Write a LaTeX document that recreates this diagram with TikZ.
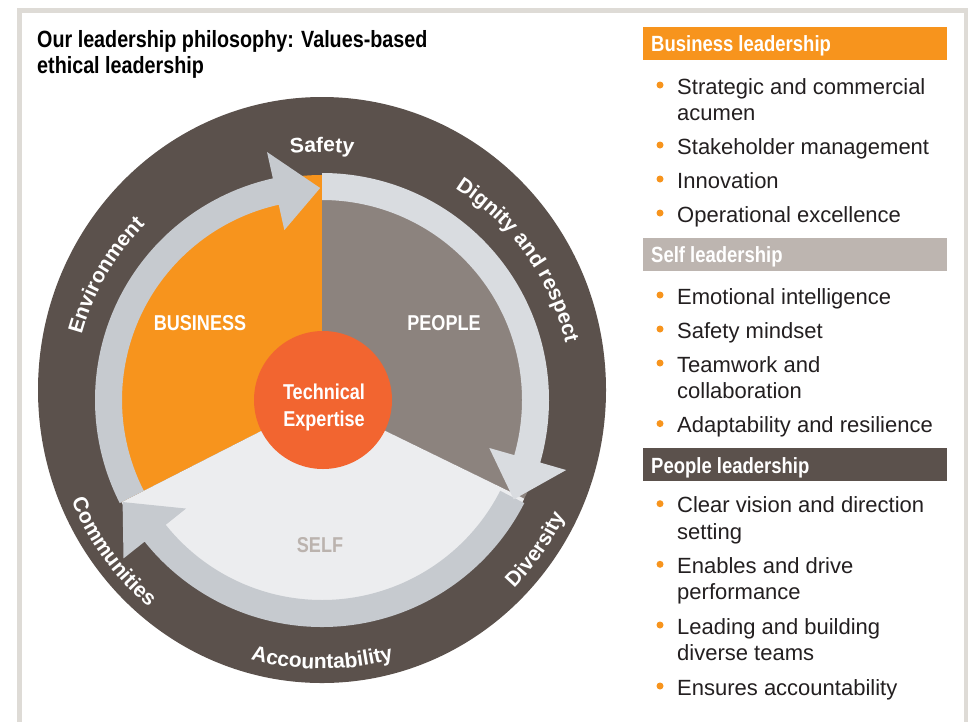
\documentclass[tikz,border=0pt]{standalone}
\usepackage{fontspec}
\setmainfont{Liberation Sans}
\newfontfamily\condfont[FakeStretch=0.84]{Liberation Sans}
\usetikzlibrary{decorations.text}
\definecolor{framegray}{HTML}{DEDBD6}
\definecolor{darkring}{HTML}{5B514C}
\definecolor{bizorange}{HTML}{F7941D}
\definecolor{peoplec}{HTML}{8C837E}
\definecolor{selfc}{HTML}{ECEDEF}
\definecolor{bandlight}{HTML}{D9DCE0}
\definecolor{banddark}{HTML}{C6CACF}
\definecolor{techc}{HTML}{F26530}
\definecolor{selftext}{HTML}{BBB3AE}
\definecolor{selfbar}{HTML}{BDB5B0}
\definecolor{bodytext}{HTML}{231F20}
\newcommand\ringfont{\bfseries\fontsize{21}{21}\selectfont}
\newcommand\bandarrow[5]{%
  \fill[#1] (#2:227) arc[start angle=#2, end angle=#3, radius=227]
    -- (#3:254) -- (#4:#5) -- (#3:174) -- (#3:200)
    arc[start angle=#3, end angle=#2, radius=200] -- cycle;}
\tikzset{
  titletext/.style={anchor=base west, inner sep=0pt, text=black, font=\condfont\bfseries\fontsize{23.5}{25}\selectfont},
  headtext/.style={anchor=base west, inner sep=0pt, text=white, font=\condfont\bfseries\fontsize{22}{22}\selectfont},
  itemtext/.style={anchor=base west, inner sep=0pt, text=bodytext, font=\fontsize{22}{22}\selectfont},
  bulletdot/.style={circle, fill=bizorange, inner sep=0pt, minimum size=7pt},
  sectortext/.style={inner sep=0pt, font=\condfont\bfseries\fontsize{21.5}{21.5}\selectfont},
  ringlabel/.style={decorate, decoration={text along path, text align=center, text color=white}},
}
\begin{document}
\begin{tikzpicture}[x=1pt,y=1pt]
\useasboundingbox (0,0) rectangle (968,-721);
\fill[white] (0,0) rectangle (968,-721);
% frame
\draw[framegray, line width=5pt] (19.5,-730) -- (19.5,-10.5) -- (966,-10.5) -- (966,-730);

% title
\node[titletext] (title1) at (37,-47.5) {Our leadership philosophy: Values-based};
\node[titletext] (title2) at (37,-73) {ethical leadership};

% dark disk
\fill[darkring] (322,-390) ellipse[x radius=284, y radius=293];

\begin{scope}[shift={(322,-400)}]
  % sectors
  \fill[bizorange] (0,0) -- (90:225) arc[start angle=90, end angle=207, radius=225] -- cycle;
  \fill[peoplec] (0,0) -- (-26:225) arc[start angle=-26, end angle=90, radius=225] -- cycle;
  \fill[selfc] (0,0) -- (207:225) arc[start angle=207, end angle=334, radius=225] -- cycle;
  % arrow bands
  \bandarrow{banddark}{207}{102.5}{90.5}{212}
  \bandarrow{banddark}{-27}{-141.4}{-152.9}{224}
  \bandarrow{bandlight}{90}{-16}{-27.4}{216}
  % ring labels
  \path[ringlabel, decoration={text={|\ringfont|Safety}}] (130:248) arc[start angle=130, end angle=50, radius=248];
  \path[ringlabel, decoration={text={|\ringfont|Environment}}] (190:249) arc[start angle=190, end angle=110, radius=249];
  \path[ringlabel, decoration={text={|\ringfont|Dignity and respect}}] (80.5:250) arc[start angle=80.5, end angle=-9.5, radius=250];
  \path[ringlabel, decoration={text={|\ringfont|Diversity}}] (-70:269) arc[start angle=-70, end angle=0, radius=269];
  \path[ringlabel, decoration={text={|\ringfont|Accountability}}] (-135:269) arc[start angle=-135, end angle=-45, radius=269];
  \path[ringlabel, decoration={text={|\ringfont|Communities}}] (182:270) arc[start angle=182, end angle=250, radius=270];
\end{scope}

% sector labels
\node[sectortext, text=white] (business) at (200,-323) {BUSINESS};
\node[sectortext, text=white] (people) at (444,-323) {PEOPLE};
\node[sectortext, text=selftext] (self) at (320,-545) {SELF};

% technical expertise
\fill[techc] (323,-400) circle[radius=69];
\node[sectortext, text=white, anchor=base] (tech1) at (324,-399.5) {Technical};
\node[sectortext, text=white, anchor=base] (tech2) at (324,-426) {Expertise};

% right panel
\fill[bizorange] (643,-27) rectangle (947,-59.5);
\node[headtext] (h1) at (651,-51.5) {Business leadership};
\node[bulletdot] (b1) at (660,-85) {};
\node[itemtext] (i1) at (677,-94) {Strategic and commercial};
\node[itemtext] (i1b) at (677,-120.5) {acumen};
\node[bulletdot] (b2) at (660,-145) {};
\node[itemtext] (i2) at (677,-154) {Stakeholder management};
\node[bulletdot] (b3) at (660,-179) {};
\node[itemtext] (i3) at (677,-188) {Innovation};
\node[bulletdot] (b4) at (660,-213) {};
\node[itemtext] (i4) at (677,-222) {Operational excellence};

\fill[selfbar] (643,-237.5) rectangle (947,-270.5);
\node[headtext] (h2) at (651,-262) {Self leadership};
\node[bulletdot] (b5) at (660,-295) {};
\node[itemtext] (i5) at (677,-304) {Emotional intelligence};
\node[bulletdot] (b6) at (660,-329) {};
\node[itemtext] (i6) at (677,-338) {Safety mindset};
\node[bulletdot] (b7) at (660,-363) {};
\node[itemtext] (i7) at (677,-372) {Teamwork and};
\node[itemtext] (i7b) at (677,-398.6) {collaboration};
\node[bulletdot] (b8) at (660,-423.6) {};
\node[itemtext] (i8) at (677,-432.6) {Adaptability and resilience};

\fill[darkring] (643,-447.5) rectangle (947,-480.5);
\node[headtext] (h3) at (651,-473) {People leadership};
\node[bulletdot] (b9) at (660,-503.7) {};
\node[itemtext] (i9) at (677,-512.7) {Clear vision and direction};
\node[itemtext] (i9b) at (677,-539.3) {setting};
\node[bulletdot] (b10) at (660,-564.3) {};
\node[itemtext] (i10) at (677,-573.3) {Enables and drive};
\node[itemtext] (i10b) at (677,-599.9) {performance};
\node[bulletdot] (b11) at (660,-625) {};
\node[itemtext] (i11) at (677,-634) {Leading and building};
\node[itemtext] (i11b) at (677,-660.7) {diverse teams};
\node[bulletdot] (b12) at (660,-686) {};
\node[itemtext] (i12) at (677,-695) {Ensures accountability};
\end{tikzpicture}
\end{document}
